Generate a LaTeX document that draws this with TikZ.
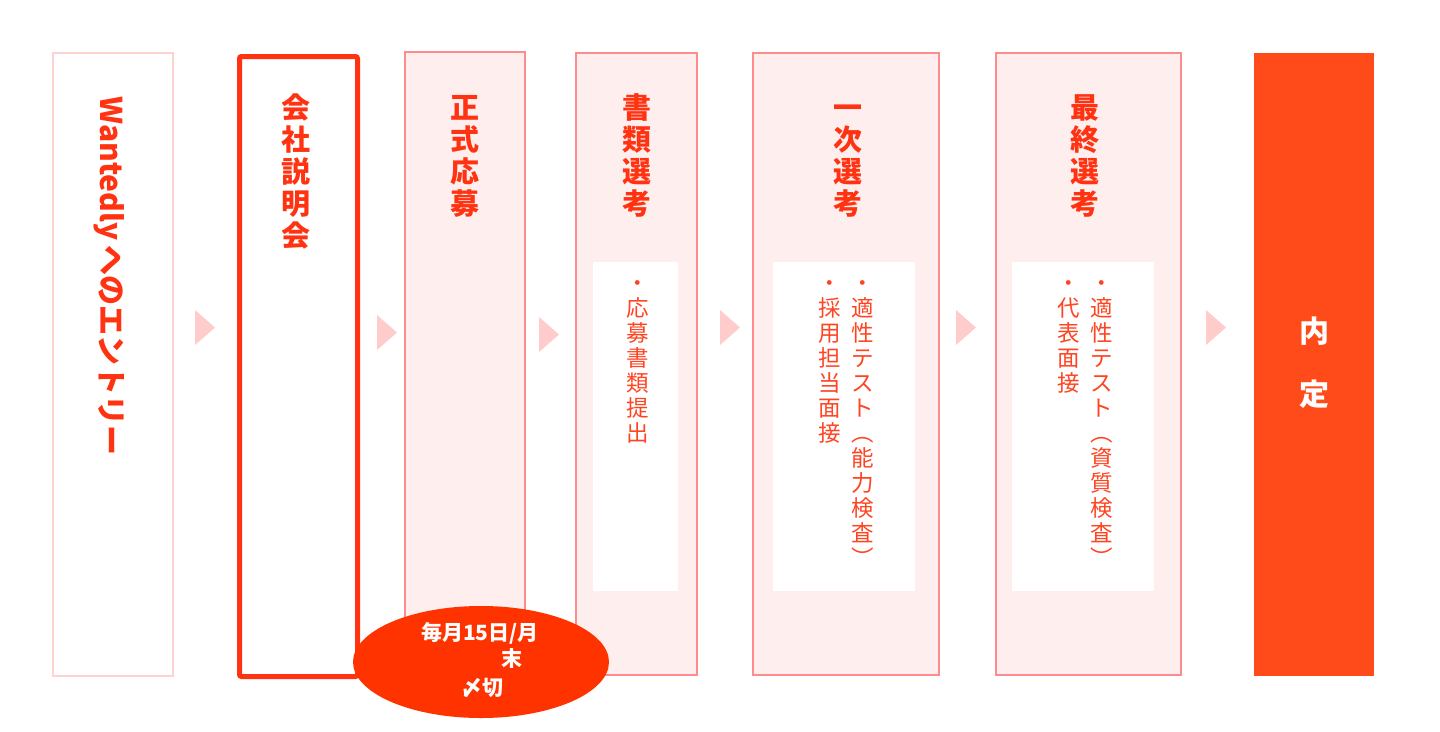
\documentclass[tikz,border=0pt]{standalone}
\usepackage{fontspec}
\setmainfont{Noto Sans CJK JP}
\usetikzlibrary{shapes.geometric}

\definecolor{titlered}{HTML}{FF3311}
\definecolor{itemred}{HTML}{FF4422}
\definecolor{boxline}{HTML}{FF8C8C}
\definecolor{boxfill}{HTML}{FFEEEE}
\definecolor{entryline}{HTML}{FFD2D2}
\definecolor{arrowpink}{HTML}{FFCCCC}
\definecolor{offerfill}{HTML}{FF4A1A}
\definecolor{duefill}{HTML}{FF3300}

% keeps the top of a stacked column at the em-box top
\newcommand{\colstart}{\rule{0pt}{0.88em}}

\tikzset{
  stagebox/.style={draw=boxline, fill=boxfill, line width=1.5pt, anchor=north west, inner sep=0pt},
  memobox/.style={fill=white, anchor=north west, inner sep=0pt},
  stagetitle/.style={anchor=north, inner sep=0pt, align=center, text=titlered,
    font=\bfseries\fontsize{29}{32}\selectfont},
  memotext/.style={anchor=north, inner sep=0pt, align=center, text=itemred,
    font=\fontsize{22.5}{25}\selectfont},
  nextmark/.style={fill=arrowpink},
  duetext/.style={text=white, inner sep=0pt, font=\bfseries\fontsize{21}{21}\selectfont},
}

\begin{document}
\begin{tikzpicture}[x=1pt, y=-1pt]
\useasboundingbox (0,0) rectangle (1440,731);

% stage boxes
\node[stagebox, draw=entryline, fill=white, minimum width=120, minimum height=623] (entry) at (52,52) {};
\node[stagebox, draw=titlered, fill=white, line width=5pt, rounded corners=2pt,
      minimum width=118, minimum height=620] (briefing) at (237,54) {};
\node[stagebox, minimum width=120, minimum height=624] (apply) at (404,51) {};
\node[stagebox, minimum width=121, minimum height=622] (docs) at (575,52) {};
\node[stagebox, minimum width=186, minimum height=622] (first) at (752,52) {};
\node[stagebox, minimum width=185, minimum height=622] (final) at (995,52) {};
\node[stagebox, draw=none, fill=offerfill, minimum width=120, minimum height=623] (offer) at (1253,52) {};

% white memo areas
\node[memobox, minimum width=85, minimum height=329] (docsmemo) at (593,262) {};
\node[memobox, minimum width=142, minimum height=329] (firstmemo) at (773,262) {};
\node[memobox, minimum width=142, minimum height=329] (finalmemo) at (1012,262) {};

% titles
\node[stagetitle, rotate=-90, anchor=center, font=\bfseries\fontsize{30}{30}\selectfont] (entrytitle) at (109,276) {Wantedly\,へのエントリー};
\node[stagetitle] (briefingtitle) at (296,93) {\colstart 会\\社\\説\\明\\会};
\node[stagetitle] (applytitle) at (465,93) {\colstart 正\\式\\応\\募};
\node[stagetitle] (docstitle) at (637,93) {\colstart 書\\類\\選\\考};
\node[stagetitle] (firsttitle) at (848,93) {\colstart 一\\次\\選\\考};
\node[stagetitle] (finaltitle) at (1085,93) {\colstart 最\\終\\選\\考};

% memo texts
\node[memotext] (docsa) at (638,271) {\colstart ・\\応\\募\\書\\類\\提\\出};
\node[memotext] (firsta) at (863,271) {\colstart ・\\適\\性\\テ\\ス\\ト\\︵\\能\\力\\検\\査\\︶};
\node[memotext] (firstb) at (830,271) {\colstart ・\\採\\用\\担\\当\\面\\接};
\node[memotext] (finala) at (1102,271) {\colstart ・\\適\\性\\テ\\ス\\ト\\︵\\資\\質\\検\\査\\︶};
\node[memotext] (finalb) at (1069,271) {\colstart ・\\代\\表\\面\\接};

\node[duetext, font=\bfseries\fontsize{30}{30}\selectfont] (offera) at (1314,331) {内};
\node[duetext, font=\bfseries\fontsize{30}{30}\selectfont] (offerb) at (1314,394) {定};

% arrows between stages
\fill[nextmark] (195,310) -- (215,327.5) -- (195,345) -- cycle;
\fill[nextmark] (377,315) -- (397,332.5) -- (377,350) -- cycle;
\fill[nextmark] (539,317) -- (559,334.5) -- (539,352) -- cycle;
\fill[nextmark] (720,310) -- (740,327.5) -- (720,345) -- cycle;
\fill[nextmark] (956,310) -- (976,327.5) -- (956,345) -- cycle;
\fill[nextmark] (1206,310) -- (1226,327.5) -- (1206,345) -- cycle;

% deadline
\node[ellipse, fill=duefill, minimum width=256, minimum height=112, inner sep=0pt] (due) at (481,662) {};
\node[duetext] (duea) at (480,633) {毎月15日/月};
\node[duetext] (dueb) at (512,659) {末};
\node[duetext] (duec) at (482,688) {〆切};

\end{tikzpicture}
\end{document}
